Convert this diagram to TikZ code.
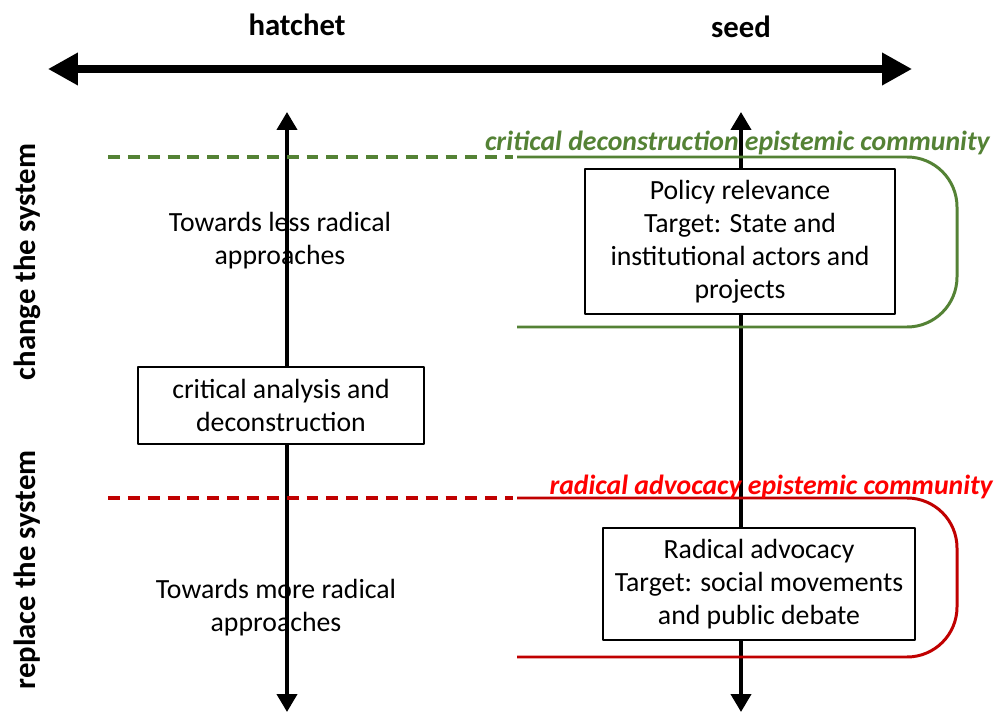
\documentclass[tikz,border=0pt]{standalone}
\usepackage{fontspec}
\setmainfont{Carlito}
\usetikzlibrary{arrows.meta}
\definecolor{mygreen}{RGB}{84,130,53}
\definecolor{myred}{RGB}{192,0,0}
\definecolor{mylabelred}{RGB}{255,0,0}

\begin{document}
\begin{tikzpicture}[x=0.02cm,y=-0.02cm,line join=round]
      \tikzstyle{every node}=[font=\fontsize{15.8}{18.7}\selectfont,inner sep=0pt]
      \tikzstyle{box}=[draw,fill=white,line width=0.8pt,align=center]
      \tikzstyle{axis}=[line width=4pt,{Triangle[length=0.6cm,width=0.62cm]}-{Triangle[length=0.6cm,width=0.62cm]}]
      \tikzstyle{vaxis}=[line width=2.3pt,{Triangle[length=0.36cm,width=0.4cm]}-{Triangle[length=0.36cm,width=0.4cm]}]
      \tikzstyle{community}=[line width=1.7pt,rounded corners=1cm]
      \tikzstyle{border}=[line width=2.2pt,dash pattern=on 6.8pt off 4.5pt]
      \tikzstyle{heading}=[font=\fontsize{17.5}{21}\selectfont\bfseries]
      \tikzstyle{label}=[font=\fontsize{15.8}{18.7}\selectfont\bfseries\itshape,anchor=east]

      \useasboundingbox (0,0) rectangle (997,712);

      % main axes
      \coordinate (hl) at (48,69);
      \coordinate (hr) at (912,69);
      \coordinate (at) at (287,112);
      \coordinate (ab) at (287,712);
      \coordinate (st) at (741,112);
      \coordinate (sb) at (741,712);
      \draw[axis] (hl) -- (hr);
      \draw[vaxis] (at) -- (ab);
      \draw[vaxis] (st) -- (sb);

      \node[heading] (hatchet) at (297,25) {hatchet};
      \node[heading] (seed) at (741,27) {seed};
      \node[heading,rotate=90] (change) at (27,262) {change the system};
      \node[heading,rotate=90] (replace) at (27,570) {replace the system};

      % community borders
      \coordinate (g0) at (108,157);
      \coordinate (g1) at (513,157);
      \coordinate (g2) at (517,157);
      \coordinate (g3) at (957,157);
      \coordinate (g4) at (957,327);
      \coordinate (g5) at (517,327);
      \draw[border,mygreen] (g0) -- (g1);
      \draw[community,mygreen] (g2) -- (g3) -- (g4) -- (g5);

      \coordinate (r0) at (108,498);
      \coordinate (r1) at (513,498);
      \coordinate (r2) at (517,498);
      \coordinate (r3) at (957,498);
      \coordinate (r4) at (957,657);
      \coordinate (r5) at (517,657);
      \draw[border,myred] (r0) -- (r1);
      \draw[community,myred] (r2) -- (r3) -- (r4) -- (r5);

      \node[label,color=mygreen] (gcom) at (990,143) {critical deconstruction epistemic community};
      \node[label,color=mylabelred] (rcom) at (993,487) {radical advocacy epistemic community};

      % boxes
      \node[box,minimum width=310*0.02cm,minimum height=145*0.02cm] (policy) at (740,241.5) {Policy relevance\\Target: State and\\institutional actors and\\projects};
      \node[box,minimum width=312*0.02cm,minimum height=112*0.02cm] (radical) at (759,584) {Radical advocacy\\Target: social movements\\and public debate};
      \node[box,minimum width=286*0.02cm,minimum height=77*0.02cm] (critical) at (281,405.5) {critical analysis and\\deconstruction};

      \node[align=center] (less) at (280,241) {Towards less radical\\approaches};
      \node[align=center] (more) at (276,608) {Towards more radical\\approaches};
\end{tikzpicture}
\end{document}
